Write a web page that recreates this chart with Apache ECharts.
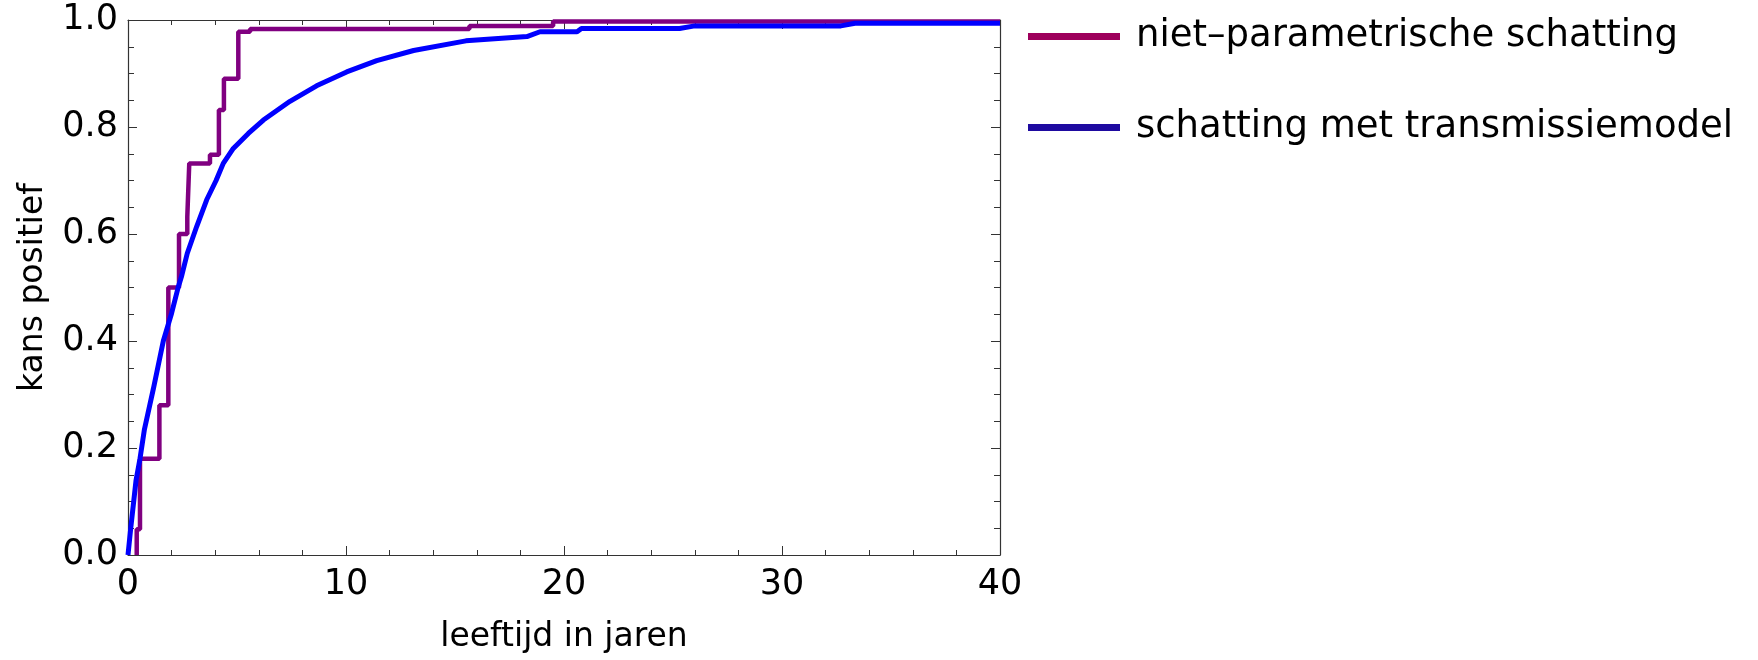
<!DOCTYPE html>
<html>
<head>
<meta charset="utf-8">
<script src="https://cdn.jsdelivr.net/npm/echarts@6/dist/echarts.min.js"></script>
<style>
  html, body { margin: 0; padding: 0; background: #fff; }
  #main { width: 1758px; height: 660px; }
</style>
</head>
<body>
<div id="main"></div>
<script>
// step points of the non-parametric estimate: [age, probability]
const stepAge  = [0.40, 0.40, 0.55, 1.44, 1.85, 2.34, 2.72, 2.81, 3.76, 4.17, 4.40, 5.06, 5.60, 15.66, 19.50, 40];
const stepProb = [0, 0.048, 0.18, 0.28, 0.50, 0.60, 0.632, 0.732, 0.748, 0.832, 0.89, 0.978, 0.983, 0.989, 0.997, 0.997];

// transmission model curve
const modelAge  = [0, 0.12, 0.37, 0.55, 0.75, 1.16, 1.62, 2.0, 2.3, 2.45, 2.72, 3.15, 3.61, 4.04, 4.37, 4.83, 5.52, 6.21, 7.43, 8.65, 10.03, 11.41, 13.1, 15.5, 18.3, 18.9, 20.6, 20.8, 25.3, 26.0, 32.7, 33.35, 40];
const modelProb = [0, 0.048, 0.14, 0.18, 0.234, 0.31, 0.40, 0.452, 0.50, 0.52, 0.564, 0.614, 0.664, 0.70, 0.732, 0.76, 0.788, 0.813, 0.848, 0.877, 0.903, 0.924, 0.943, 0.961, 0.969, 0.978, 0.978, 0.984, 0.984, 0.989, 0.989, 0.994, 0.994];

const seriesNames = ['niet\u2013parametrische schatting', 'schatting met transmissiemodel'];
const xTicks = [0, 10, 20, 30, 40];
const yTicks = [0, 0.2, 0.4, 0.6, 0.8, 1.0];

const font = 'DejaVu Sans';
const axisColor = '#333';

const chart = echarts.init(document.getElementById('main'));

const zip = (a, b) => a.map((v, i) => [v, b[i]]);

const baseX = {
  type: 'value',
  min: xTicks[0],
  max: xTicks[xTicks.length - 1],
  interval: 10,
  axisLine: { show: true, onZero: false, lineStyle: { color: axisColor, width: 1.2 } },
  axisTick: { show: true, inside: true, length: 9, lineStyle: { color: axisColor } },
  minorTick: { show: true, splitNumber: 5, length: 5, lineStyle: { color: axisColor } },
  splitLine: { show: false }
};
const baseY = {
  type: 'value',
  min: yTicks[0],
  max: yTicks[yTicks.length - 1],
  interval: 0.2,
  axisLine: { show: true, onZero: false, lineStyle: { color: axisColor, width: 1.2 } },
  axisTick: { show: true, inside: true, length: 9, lineStyle: { color: axisColor } },
  minorTick: { show: true, splitNumber: 4, length: 6, lineStyle: { color: axisColor } },
  splitLine: { show: false }
};

const option = {
  animation: false,
  backgroundColor: '#fff',
  grid: { left: 128, right: 758, top: 20, bottom: 105, containLabel: false },
  legend: {
    orient: 'vertical',
    left: 1023,
    top: 13,
    icon: 'rect',
    itemWidth: 92,
    itemHeight: 7,
    itemGap: 54,
    textStyle: { fontFamily: font, fontSize: 37, color: '#000', padding: [0, 0, 0, 11] },
    data: [
      { name: seriesNames[0], itemStyle: { color: '#9E005C' } },
      { name: seriesNames[1], itemStyle: { color: '#1E0AA0' } }
    ]
  },
  xAxis: [
    Object.assign({}, baseX, {
      position: 'bottom',
      name: 'leeftijd in jaren',
      nameLocation: 'middle',
      nameGap: 66,
      nameTextStyle: { fontFamily: font, fontSize: 33, color: '#000' },
      axisLabel: { fontFamily: font, fontSize: 35, color: '#000', margin: 12 }
    }),
    Object.assign({}, baseX, { position: 'top', axisLabel: { show: false } })
  ],
  yAxis: [
    Object.assign({}, baseY, {
      position: 'left',
      name: 'kans positief',
      nameLocation: 'middle',
      nameGap: 78,
      nameTextStyle: { fontFamily: font, fontSize: 33, color: '#000' },
      axisLabel: {
        fontFamily: font, fontSize: 35, color: '#000', margin: 10,
        formatter: v => v.toFixed(1)
      }
    }),
    Object.assign({}, baseY, { position: 'right', axisLabel: { show: false } })
  ],
  series: [
    {
      name: seriesNames[0],
      type: 'line',
      step: 'end',
      showSymbol: false,
      data: zip(stepAge, stepProb),
      lineStyle: { color: '#800080', width: 4.5 },
      itemStyle: { color: '#800080' },
      z: 2
    },
    {
      name: seriesNames[1],
      type: 'line',
      showSymbol: false,
      data: zip(modelAge, modelProb),
      lineStyle: { color: '#0000FF', width: 5 },
      itemStyle: { color: '#0000FF' },
      z: 3
    }
  ]
};

chart.setOption(option);
</script>
</body>
</html>
